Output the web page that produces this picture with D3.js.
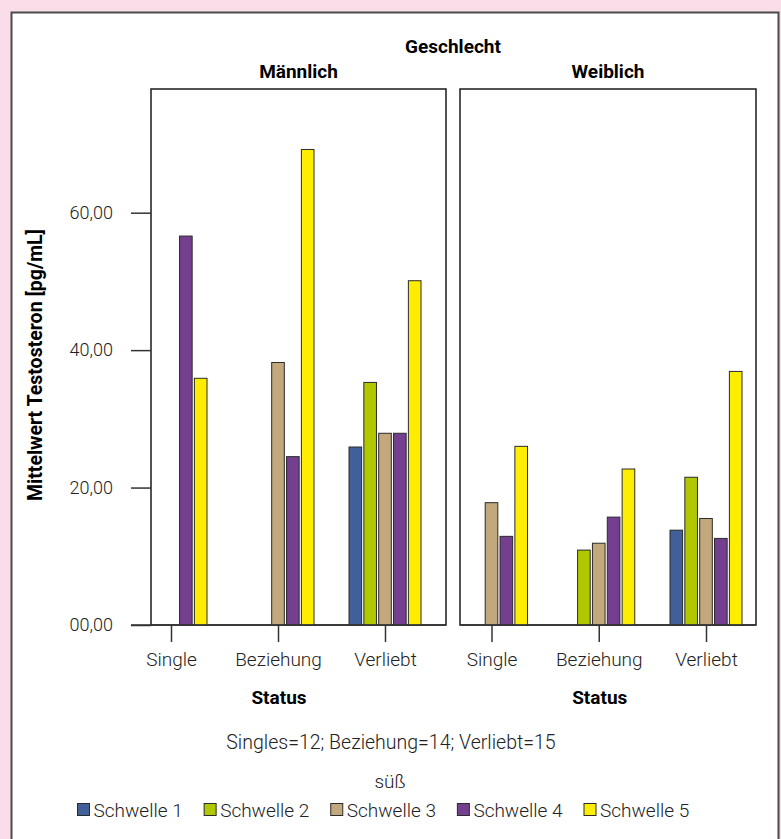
<!DOCTYPE html>
<html><head><meta charset="utf-8">
<script src="https://cdn.jsdelivr.net/npm/d3@7"></script>
<style>
html,body{margin:0;padding:0;background:#f9dde8;}
svg{display:block;}
text{font-family:Roboto,"Noto Sans",sans-serif;}
</style></head>
<body><svg id="c" width="781" height="839"></svg>
<script>
const genders = ["Männlich", "Weiblich"];
const statuses = ["Single", "Beziehung", "Verliebt"];
const series = ["Schwelle 1", "Schwelle 2", "Schwelle 3", "Schwelle 4", "Schwelle 5"];
const colors = ["#41609a", "#b1c800", "#c2a87c", "#743f8f", "#ffed00"];
// values per series, per status (Single, Beziehung, Verliebt); null = no bar
const maleValues = [
  [null, null, 25.9],
  [null, null, 35.3],
  [null, 38.2, 27.9],
  [56.6, 24.5, 27.9],
  [35.9, 69.2, 50.1]
];
const femaleValues = [
  [null, null, 13.8],
  [null, 10.9, 21.5],
  [17.8, 11.9, 15.5],
  [12.9, 15.7, 12.6],
  [26.0, 22.7, 36.9]
];
const yTicks = [0, 20, 40, 60];
const yMax = 78;

const svg = d3.select("#c");
// white frame
svg.append("rect").attr("x", 11.5).attr("y", 12.5).attr("width", 767).attr("height", 840)
  .attr("fill", "#fff").attr("stroke", "#4a4a4a").attr("stroke-width", 2);

const y = d3.scaleLinear().domain([0, yMax]).range([625, 89]);
const panels = [
  {name: genders[0], values: maleValues, x0: 151, x1: 446, pts: [171, 385]},
  {name: genders[1], values: femaleValues, x0: 460, x1: 756, pts: [491.5, 706]}
];
const inner = d3.scaleBand().domain(series).range([-36, 36]).paddingInner(0.15);
const fmt = v => d3.format("05.2f")(v).replace(".", ",");

panels.forEach((p, pi) => {
  const g = svg.append("g");
  const x = d3.scalePoint().domain(statuses).range(p.pts);
  // frame
  g.append("rect").attr("x", p.x0).attr("y", 89).attr("width", p.x1 - p.x0).attr("height", 625 - 89)
    .attr("fill", "none").attr("stroke", "#1a1a1a").attr("stroke-width", 1.5);
  // bars
  series.forEach((s, si) => {
    statuses.forEach((st, ci) => {
      const v = p.values[si][ci];
      if (v == null) return;
      g.append("rect")
        .attr("x", x(st) + inner(s))
        .attr("y", y(v))
        .attr("width", inner.bandwidth())
        .attr("height", y(0) - y(v))
        .attr("fill", colors[si]).attr("stroke", "#2b2b2b").attr("stroke-width", 1);
    });
  });
  // x axis
  const xa = g.append("g").attr("transform", "translate(0,625)")
    .call(d3.axisBottom(x).tickSize(17).tickPadding(11));
  xa.select(".domain").remove();
  xa.selectAll(".tick line").attr("stroke", "#333").attr("stroke-width", 1.5);
  xa.selectAll(".tick text").attr("font-size", 19).attr("fill", "#222").attr("font-weight", 300);
  // baseline
  g.append("line").attr("x1", pi === 0 ? 131 : p.x0).attr("x2", p.x1).attr("y1", 625).attr("y2", 625)
    .attr("stroke", "#333").attr("stroke-width", 1.5);
  // titles
  g.append("text").attr("x", (p.x0 + p.x1) / 2).attr("y", 78).attr("text-anchor", "middle")
    .attr("font-size", 19).attr("font-weight", 700).text(p.name);
  g.append("text").attr("x", x(statuses[1]) + 1).attr("y", 704).attr("text-anchor", "middle")
    .attr("font-size", 19).attr("font-weight", 700).text("Status");
});

// y axis
const ya = svg.append("g").attr("transform", "translate(151,0)")
  .call(d3.axisLeft(y).tickValues(yTicks).tickFormat(fmt).tickSize(20).tickPadding(18));
ya.select(".domain").remove();
ya.selectAll(".tick line").attr("stroke", "#333").attr("stroke-width", 1.5);
ya.selectAll(".tick text").attr("font-size", 18).attr("fill", "#222").attr("font-weight", 300);

svg.append("text").attr("transform", "translate(42,365) rotate(-90)").attr("text-anchor", "middle")
  .attr("font-size", 19.5).attr("font-weight", 700).text("Mittelwert Testosteron  [pg/mL]");

svg.append("text").attr("x", 453).attr("y", 53).attr("text-anchor", "middle")
  .attr("font-size", 19).attr("font-weight", 700).text("Geschlecht");

svg.append("text").attr("x", 391).attr("y", 749).attr("text-anchor", "middle")
  .attr("font-size", 19.5).attr("font-weight", 300).attr("fill", "#222").text("Singles=12; Beziehung=14; Verliebt=15");
svg.append("text").attr("x", 390).attr("y", 788).attr("text-anchor", "middle")
  .attr("font-size", 19).attr("font-weight", 300).attr("fill", "#222").text("süß");

// legend
const lx = d3.scalePoint().domain(series).range([77.5, 584]);
const lg = svg.append("g");
series.forEach((s, i) => {
  lg.append("rect").attr("x", lx(s)).attr("y", 803.5).attr("width", 12).attr("height", 12)
    .attr("fill", colors[i]).attr("stroke", "#2b2b2b").attr("stroke-width", 1);
  lg.append("text").attr("x", lx(s) + 16).attr("y", 817).attr("font-size", 19).attr("font-weight", 300)
    .attr("fill", "#222").text(s);
});
</script></body></html>
